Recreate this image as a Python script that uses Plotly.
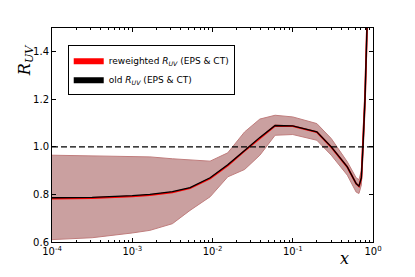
import plotly.graph_objects as go

# log10(x) sample positions
logx = [-4.0, -3.5, -3.0, -2.78, -2.5, -2.28, -2.03, -1.81, -1.6, -1.41, -1.22,
        -1.0, -0.70, -0.52, -0.32, -0.21, -0.175, -0.145, -0.125, -0.1, -0.075, -0.06]
x = [10 ** v for v in logx]

old_central = [0.786, 0.788, 0.795, 0.800, 0.812, 0.829, 0.870, 0.925, 0.985, 1.040, 1.090,
               1.088, 1.063, 1.000, 0.916, 0.846, 0.835, 0.870, 1.000, 1.200, 1.500, 1.700]
rew_central = [0.783, 0.785, 0.792, 0.797, 0.809, 0.826, 0.867, 0.922, 0.983, 1.038, 1.089,
               1.087, 1.062, 0.999, 0.915, 0.845, 0.834, 0.869, 0.999, 1.199, 1.499, 1.699]
band_upper = [0.965, 0.963, 0.960, 0.958, 0.950, 0.945, 0.940, 0.975, 1.063, 1.117, 1.133,
              1.126, 1.098, 1.035, 0.937, 0.870, 0.862, 0.900, 1.040, 1.250, 1.560, 1.760]
band_lower = [0.610, 0.618, 0.638, 0.649, 0.677, 0.733, 0.790, 0.874, 0.905, 0.965, 1.049,
              1.052, 1.028, 0.965, 0.881, 0.810, 0.804, 0.840, 0.960, 1.150, 1.440, 1.640]

x_tickvals = [1e-4, 1e-3, 1e-2, 1e-1, 1]
x_ticktext = ["10<sup>-4</sup>", "10<sup>-3</sup>", "10<sup>-2</sup>", "10<sup>-1</sup>", "10<sup>0</sup>"]
y_tickvals = [0.6, 0.8, 1.0, 1.2, 1.4]
y_ticktext = ["0.6", "0.8", "1.0", "1.2", "1.4"]
minor_vals = [m * 10 ** k for k in range(-4, 0) for m in range(2, 10)]

band_fill = "rgb(202,160,160)"
band_edge = "rgb(192,125,125)"

fig = go.Figure()
fig.add_trace(go.Scatter(x=x, y=band_upper, mode="lines", line=dict(color=band_edge, width=1),
                         showlegend=False, hoverinfo="skip"))
fig.add_trace(go.Scatter(x=x, y=band_lower, mode="lines", line=dict(color=band_edge, width=1),
                         fill="tonexty", fillcolor=band_fill, showlegend=False, hoverinfo="skip"))
fig.add_trace(go.Scatter(x=x, y=rew_central, mode="lines", line=dict(color="red", width=1.8),
                         showlegend=False))
fig.add_trace(go.Scatter(x=x, y=old_central, mode="lines", line=dict(color="black", width=1.3),
                         showlegend=False))
# legend proxies
fig.add_trace(go.Scatter(x=[None], y=[None], mode="lines", fill="toself", fillcolor="red",
                         line=dict(color="red", width=0),
                         name="reweighted <i>R</i><sub><i>UV</i></sub> (EPS & CT)"))
fig.add_trace(go.Scatter(x=[None], y=[None], mode="lines", fill="toself", fillcolor="black",
                         line=dict(color="black", width=0),
                         name="old <i>R</i><sub><i>UV</i></sub> (EPS & CT)"))

fig.add_hline(y=1.0, line=dict(color="black", width=1.2, dash="6px,3px"))

fig.update_layout(
    width=415, height=277,
    margin=dict(l=52, r=42, t=28, b=35),
    paper_bgcolor="white", plot_bgcolor="white",
    font=dict(family="DejaVu Sans", size=10, color="black"),
    legend=dict(x=0.049, y=0.922, xanchor="left", yanchor="top", traceorder="normal",
                bordercolor="black", borderwidth=1, bgcolor="white",
                font=dict(size=9), itemwidth=30, tracegroupgap=0),
)
fig.update_xaxes(type="log", range=[-4, 0], tickvals=x_tickvals, ticktext=x_ticktext,
                 ticks="inside", ticklen=4, tickcolor="black", showline=True, linecolor="black",
                 linewidth=1, mirror="ticks", showgrid=False, zeroline=False,
                 minor=dict(tickvals=minor_vals, ticks="inside", ticklen=2, tickcolor="black",
                            showgrid=False),
                 tickfont=dict(size=10))
fig.update_yaxes(range=[0.6, 1.5], tickvals=y_tickvals, ticktext=y_ticktext,
                 ticks="inside", ticklen=4, tickcolor="black", showline=True, linecolor="black",
                 linewidth=1, mirror="ticks", showgrid=False, zeroline=False,
                 tickfont=dict(size=10))

fig.add_annotation(text="<i>R</i><sub><i>UV</i></sub>", xref="paper", yref="paper",
                   x=-0.084, y=0.85, xanchor="center", yanchor="middle", textangle=-90,
                   showarrow=False, font=dict(family="DejaVu Serif", size=16))
fig.add_annotation(text="<i>x</i>", xref="paper", yref="paper",
                   x=0.91, y=-0.076, xanchor="center", yanchor="middle", showarrow=False,
                   font=dict(family="DejaVu Serif", size=16))

fig.write_html("out.html", config={"displayModeBar": False},
               post_script="document.body.style.margin='0';")
